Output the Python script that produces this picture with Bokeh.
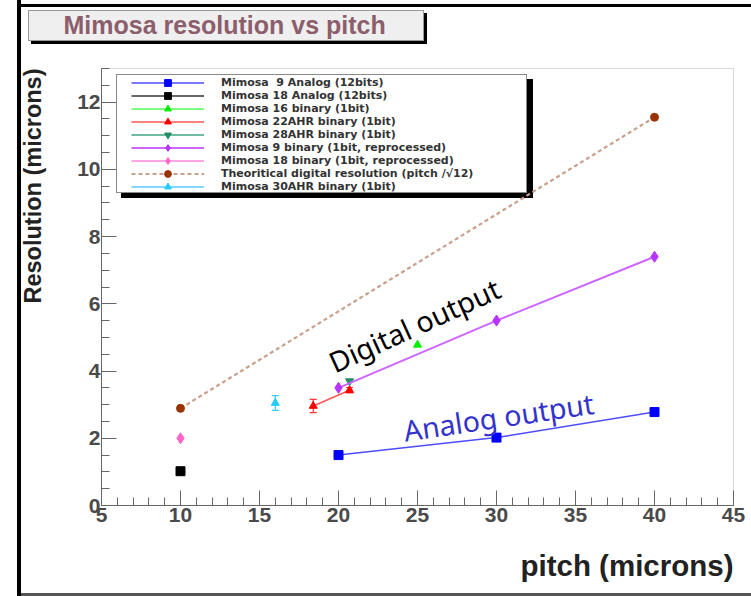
import numpy as np
from bokeh.plotting import figure
from bokeh.models import (Range1d, FixedTicker, Legend, LegendItem, Title,
                          Label, Whisker, ColumnDataSource, TeeHead)
from bokeh.embed import file_html
from bokeh.resources import INLINE

# ---------------- data ----------------
m9_analog_pitch = [20, 30, 40]
m9_analog_res = [1.50, 2.02, 2.78]
m18_analog_pitch = [10]
m18_analog_res = [1.02]
m16_bin_pitch = [25]
m16_bin_res = [4.78]
m22_bin_pitch = [18.4, 20.7]
m22_bin_res = [2.96, 3.43]
m22_bin_err = [0.2, 0.08]
m28_bin_pitch = [20.7]
m28_bin_res = [3.70]
m9_rep_pitch = [20, 30, 40]
m9_rep_res = [3.50, 5.50, 7.40]
m18_rep_pitch = [10]
m18_rep_res = [2.00]
theory_pitch = [10, 40]
theory_res = [2.89, 11.55]
m30_bin_pitch = [16]
m30_bin_res = [3.05]
m30_bin_err = [0.22]

x_ticks = [5, 10, 15, 20, 25, 30, 35, 40, 45]
y_ticks = [0, 2, 4, 6, 8, 10, 12]

labels = [
    "Mimosa  9 Analog (12bits)",
    "Mimosa 18 Analog (12bits)",
    "Mimosa 16 binary (1bit)",
    "Mimosa 22AHR binary (1bit)",
    "Mimosa 28AHR binary (1bit)",
    "Mimosa 9 binary (1bit, reprocessed)",
    "Mimosa 18 binary (1bit, reprocessed)",
    "Theoritical digital resolution (pitch /\u221a12)",
    "Mimosa 30AHR binary (1bit)",
]

# ---------------- page decorations (canvas background, CSS) ----------------
# (colour, left, top, width, height) -- first entries are painted on top
deco = [
    ("#efefef", 29, 11, 394, 29),   # title box fill
    ("#9a9a9a", 28, 10, 396, 31),   # title box border
    ("#000000", 31, 13, 396, 31),   # title box shadow
    ("#ffffff", 117, 75, 409, 117),  # legend box fill
    ("#8a8a8a", 116, 74, 411, 119),  # legend box border
    ("#000000", 121, 79, 412, 119),  # legend box shadow
    ("#000000", 17, 0, 4, 596),     # outer frame left
    ("#000000", 17, 4, 734, 3),     # outer frame top
    ("#555555", 17, 593, 734, 3),   # outer frame bottom
]
styles = {
    "background-image": ", ".join(f"linear-gradient({c},{c})" for c, *_ in deco),
    "background-position": ", ".join(f"{l}px {t}px" for _, l, t, w, h in deco),
    "background-size": ", ".join(f"{w}px {h}px" for _, l, t, w, h in deco),
    "background-repeat": "no-repeat",
    "background-color": "white",
}

# ---------------- figure ----------------
p = figure(width=751, height=596, output_backend="svg", toolbar_location=None,
           x_range=Range1d(5, 45), y_range=Range1d(0, 13),
           min_border_left=101, min_border_right=18, min_border_top=68, min_border_bottom=91,
           styles=styles)
p.xgrid.visible = False
p.ygrid.visible = False
p.outline_line_color = "#d8d8d8"
p.background_fill_alpha = 0
p.border_fill_alpha = 0

for ax, ticks, minors, standoff in ((p.xaxis[0], x_ticks, list(range(5, 46)), 2),
                                    (p.yaxis[0], y_ticks, [i * 0.5 for i in range(27)], 1)):
    ax.ticker = FixedTicker(ticks=ticks, minor_ticks=minors)
    ax.major_tick_in = 15
    ax.major_tick_out = 0
    ax.minor_tick_in = 8
    ax.minor_tick_out = 0
    ax.axis_line_color = "#666666"
    ax.major_tick_line_color = "#666666"
    ax.minor_tick_line_color = "#666666"
    ax.major_label_text_font = "Liberation Sans"
    ax.major_label_text_font_style = "bold"
    ax.major_label_text_font_size = "21px"
    ax.major_label_text_color = "#4a4a4a"
    ax.major_label_standoff = standoff

# plot title
p.title.text = "Mimosa resolution vs pitch"
p.title.align = "left"
p.title.offset = -38
p.title.standoff = 0
p.title.padding = dict(left=0, right=0, top=0, bottom=30)
p.title.text_font = "Liberation Sans"
p.title.text_font_style = "bold"
p.title.text_font_size = "25px"
p.title.text_color = "#8c5e6c"

# axis titles
p.add_layout(Title(text="Resolution (microns)", align="right", standoff=0,
                   padding=dict(left=0, right=0, top=0, bottom=29),
                   text_font="Liberation Sans", text_font_style="bold",
                   text_font_size="23.5px", text_color="#222222"), "left")
p.add_layout(Title(text="pitch (microns)", align="right", standoff=0,
                   padding=dict(left=0, right=0, top=22, bottom=0),
                   text_font="Liberation Sans", text_font_style="bold",
                   text_font_size="29.5px", text_color="#222222"), "below")

series = [
    (m9_analog_pitch, m9_analog_res, "#0000ff", "#4d4dff", "square", 9, "solid"),
    (m18_analog_pitch, m18_analog_res, "#000000", "#333333", "square", 9, "solid"),
    (m16_bin_pitch, m16_bin_res, "#00ee00", "#55ff55", "triangle", 8, "solid"),
    (m22_bin_pitch, m22_bin_res, "#ff0000", "#ff5555", "triangle", 8, "solid"),
    (m28_bin_pitch, m28_bin_res, "#1f8f63", "#3fa57f", "inverted_triangle", 8, "solid"),
    (m9_rep_pitch, m9_rep_res, "#b833ff", "#cc66ff", "diamond", 11, "solid"),
    (m18_rep_pitch, m18_rep_res, "#ff66cc", "#ff88dd", "diamond", 11, "solid"),
    (theory_pitch, theory_res, "#993300", "#c9a08c", "circle", 8, "dashed"),
    (m30_bin_pitch, m30_bin_res, "#22ccff", "#55ccff", "triangle", 8, "solid"),
]

# error bars
for xs, ys, errs, col in ((m22_bin_pitch, m22_bin_res, m22_bin_err, "#ff3333"),
                          (m30_bin_pitch, m30_bin_res, m30_bin_err, "#33ccff")):
    src = ColumnDataSource(dict(base=xs, upper=list(np.array(ys) + np.array(errs)),
                                lower=list(np.array(ys) - np.array(errs))))
    w = Whisker(source=src, base="base", upper="upper", lower="lower", dimension="height",
                line_color=col, line_width=1.2,
                upper_head=TeeHead(size=7, line_color=col, line_width=1.2),
                lower_head=TeeHead(size=7, line_color=col, line_width=1.2))
    p.add_layout(w)

items = []
for (xs, ys, mcol, lcol, marker, size, dash), lab in zip(series, labels):
    if dash == "dashed":
        lr = p.line(xs, ys, line_color=lcol, line_width=2.2, line_dash="4 3")
    else:
        lr = p.line(xs, ys, line_color=lcol, line_width=2 if mcol == "#b833ff" else 1.5)
    sr = p.scatter(xs, ys, marker=marker, size=size, fill_color=mcol, line_color=mcol)
    items.append(LegendItem(label=lab, renderers=[lr, sr]))

# legend: one row per Legend so that rows sit 13px apart
for i, it in enumerate(items):
    row_center = 82.7 + 13 * i
    lg = Legend(items=[it], location=(30, 505 - (row_center + 8.5)), orientation="vertical",
                glyph_width=73, glyph_height=17, label_height=17, label_standoff=17,
                spacing=0, padding=0, margin=0,
                border_line_alpha=0, background_fill_alpha=0,
                label_text_font="DejaVu Sans", label_text_font_style="bold",
                label_text_font_size="11px", label_text_color="#333333")
    p.add_layout(lg)

# annotations in the plot
p.add_layout(Label(x=19.49, y=4.22, text="Digital output", angle=np.radians(24.6),
                   text_align="left", text_baseline="alphabetic",
                   text_font="Noto Sans", text_font_size="28.5px", text_color="black"))
p.add_layout(Label(x=24.13, y=2.22, text="Analog output", angle=np.radians(8.4),
                   text_align="left", text_baseline="alphabetic",
                   text_font="Noto Sans", text_font_size="28.5px", text_color="#3333cc"))

open("out.html", "w").write(file_html(p, INLINE))
